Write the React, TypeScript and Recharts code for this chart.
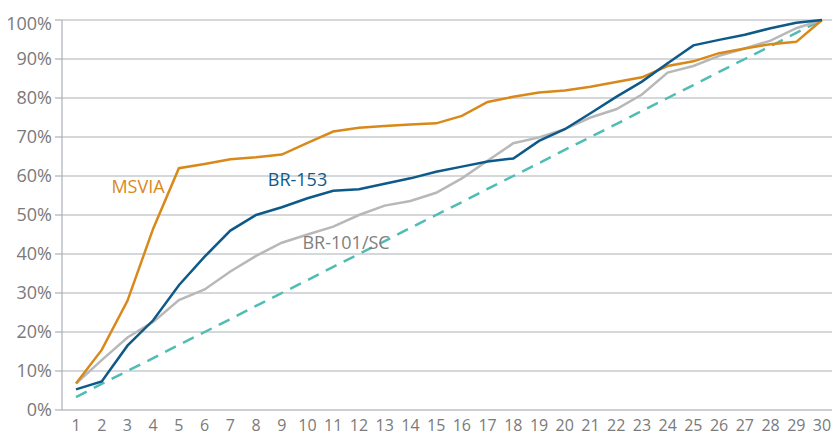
import React from 'react';
import { LineChart, Line, XAxis, YAxis, CartesianGrid, ReferenceDot } from 'recharts';

const days = [1, 2, 3, 4, 5, 6, 7, 8, 9, 10, 11, 12, 13, 14, 15, 16, 17, 18, 19, 20, 21, 22, 23, 24, 25, 26, 27, 28, 29, 30];
const msvia = [6.8, 15.4, 28.0, 46.5, 62.0, 63.1, 64.3, 64.8, 65.5, 68.5, 71.4, 72.4, 72.8, 73.2, 73.5, 75.4, 79.0, 80.3, 81.4, 81.9, 82.9, 84.1, 85.3, 88.2, 89.4, 91.5, 92.7, 93.8, 94.4, 100];
const br153 = [5.3, 7.3, 16.5, 23.0, 32.0, 39.3, 46.0, 50.0, 52.0, 54.3, 56.2, 56.6, 58.0, 59.4, 61.1, 62.4, 63.7, 64.5, 69.0, 72.0, 76.1, 80.3, 84.2, 88.9, 93.5, 94.9, 96.2, 97.9, 99.3, 100];
const br101 = [6.8, 12.8, 18.6, 22.6, 28.2, 30.9, 35.5, 39.5, 42.9, 45.0, 47.0, 50.0, 52.4, 53.6, 55.7, 59.4, 63.9, 68.4, 69.9, 72.0, 75.0, 77.1, 80.9, 86.5, 88.2, 90.8, 92.7, 94.7, 97.9, 100];
const uniform = [3.3, 6.7, 10.0, 13.3, 16.7, 20.0, 23.3, 26.7, 30.0, 33.3, 36.7, 40.0, 43.3, 46.7, 50.0, 53.3, 56.7, 60.0, 63.3, 66.7, 70.0, 73.3, 76.7, 80.0, 83.3, 86.7, 90.0, 93.3, 96.7, 100];
const yTicks = [0, 10, 20, 30, 40, 50, 60, 70, 80, 90, 100];

const seriesLabels = [
  { name: 'MSVIA', x: 3.41, y: 57.2, color: '#d8891a' },
  { name: 'BR-153', x: 9.61, y: 59.0, color: '#0d5a8a' },
  { name: 'BR-101/SC', x: 11.5, y: 42.8, color: '#7f7f7f' },
];

const data = days.map((d, i) => ({
  day: d,
  msvia: msvia[i],
  br153: br153[i],
  br101: br101[i],
  uniform: uniform[i],
}));

const FONT = '"Open Sans", sans-serif';

const YTick = (props: any) => {
  const { x, y, payload } = props;
  const shift = payload.value === 100 ? 4 : 0;
  return (
    <text x={x} y={y + shift} dy="0.36em" textAnchor="end" fill="#7a7a7a" fontSize={18} fontFamily={FONT}>
      {payload.value}%
    </text>
  );
};

export default function App() {
  return (
    <div style={{ position: 'absolute', left: 0, top: 0, width: 832, height: 436, background: '#fff' }}>
      <LineChart width={832} height={436} data={data} margin={{ top: 20, right: 0, bottom: 0, left: 0 }}>
        <CartesianGrid vertical={false} stroke="#aab1b8" strokeWidth={1.2} />
        <XAxis
          dataKey="day"
          type="number"
          domain={[1, 30]}
          ticks={days}
          interval={0}
          padding={{ left: 14, right: 10 }}
          height={26}
          axisLine={{ stroke: '#c9cdd1', strokeWidth: 1.5 }}
          tickLine={false}
          tickMargin={4}
          tick={{ fill: '#7a7a7a', fontSize: 16, fontFamily: FONT }}
        />
        <YAxis
          type="number"
          domain={[0, 100]}
          ticks={yTicks}
          width={62}
          axisLine={{ stroke: '#aab1b8', strokeWidth: 1.2 }}
          tickLine={{ stroke: '#aab1b8', strokeWidth: 1.2 }}
          tickSize={7}
          tickMargin={3}
          tick={<YTick />}
        />
        <Line dataKey="uniform" stroke="#4fbdb4" strokeWidth={2.5} strokeDasharray="12 8" dot={false} isAnimationActive={false} type="linear" />
        <Line dataKey="br101" stroke="#b8b8b8" strokeWidth={2.5} dot={false} isAnimationActive={false} type="linear" />
        <Line dataKey="msvia" stroke="#d8891a" strokeWidth={2.5} dot={false} isAnimationActive={false} type="linear" />
        <Line dataKey="br153" stroke="#0d5a8a" strokeWidth={2.5} dot={false} isAnimationActive={false} type="linear" />
        {seriesLabels.map((l) => (
          <ReferenceDot
            key={l.name}
            x={l.x}
            y={l.y}
            r={0}
            fill="none"
            stroke="none"
            ifOverflow="visible"
            label={{ value: l.name, position: 'center', fill: l.color, fontSize: 18, fontFamily: FONT }}
          />
        ))}
      </LineChart>
    </div>
  );
}
